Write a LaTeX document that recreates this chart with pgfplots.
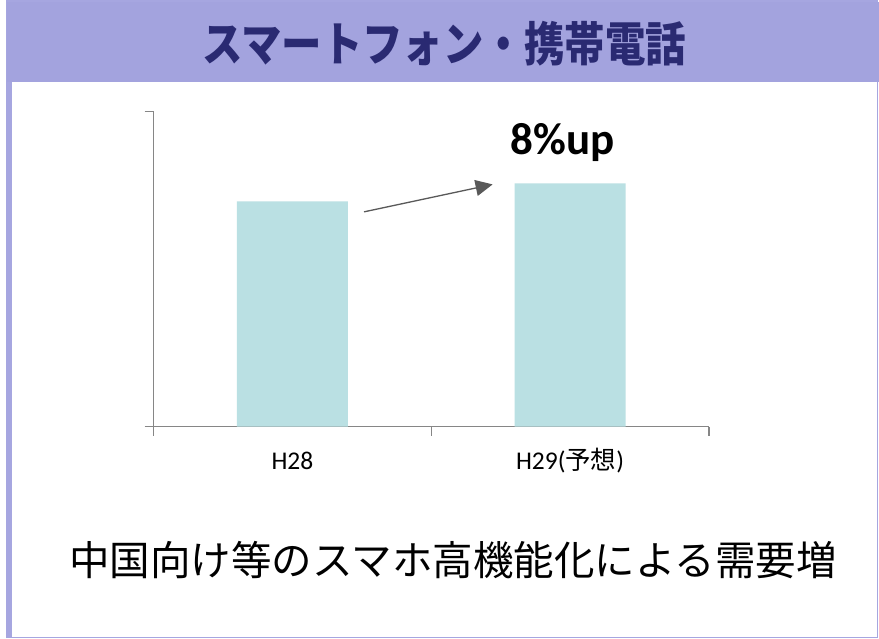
\documentclass[border=0pt]{standalone}
\usepackage{fontspec}
\setmainfont{Carlito}
\newfontfamily\cjk{Noto Sans CJK JP}
\newfontfamily\cjkcond{Noto Sans CJK JP}[FakeStretch=0.86]
\usepackage{pgfplots}
\pgfplotsset{compat=1.18}
\usetikzlibrary{arrows.meta}
\definecolor{band}{HTML}{A3A3DE}
\definecolor{framec}{HTML}{A6A6E0}
\definecolor{titletext}{HTML}{2A2A72}
\definecolor{barc}{HTML}{BAE0E3}
\definecolor{axgray}{HTML}{868686}
\definecolor{arrowc}{HTML}{595959}
\begin{document}
\begin{tikzpicture}[x=1pt,y=1pt]
\useasboundingbox (0,0) rectangle (879,-639);
\fill[white] (0,0) rectangle (879,-639);
\draw[framec, line width=1.5pt] (7,-1) rectangle (877.5,-637.5);
\fill[band] (7,-2) rectangle (879,-82);
\draw[framec, line width=4.5pt] (10,-82) -- (10,-638);
\node[titletext, font=\cjkcond\bfseries\fontsize{47}{54}\selectfont] at (444,-44) {スマートフォン・携帯電話};
\node[black, font=\cjk\fontsize{40.5}{48}\selectfont] at (453,-560) {中国向け等のスマホ高機能化による需要増};
\begin{axis}[
  at={(153.5pt,-426.5pt)}, anchor=south west, scale only axis,
  width=555.5pt, height=315pt,
  xmin=0, xmax=2, ymin=0, ymax=140,
  clip=false,
  axis lines=left,
  axis line style={axgray, line width=1.5pt, -},
  tick align=outside,
  major tick length=9pt,
  tick style={axgray, line width=1.5pt},
  xtick={0,1,2}, xticklabels={},
  ytick={0,140}, yticklabels={},
  extra x ticks={0.5,1.5},
  extra x tick labels={H28,H29({\cjk 予想})},
  extra x tick style={major tick length=0pt, tick style={draw=none}},
  xticklabel style={font=\fontsize{25.5}{30}\selectfont, anchor=base, yshift=-43pt},
]
\addplot[ybar, bar width=111pt, fill=barc, draw=none] coordinates {(0.5,100) (1.5,108)};
\draw[arrowc, line width=1.3pt, -{Triangle[length=17pt,width=16pt]}] (axis cs:0.758,95.4) -- (axis cs:1.221,107.6);
\node[black, font=\bfseries\fontsize{45}{52}\selectfont, anchor=base] at (axis cs:1.474,121.1) {8\%up};
\end{axis}
\end{tikzpicture}
\end{document}
